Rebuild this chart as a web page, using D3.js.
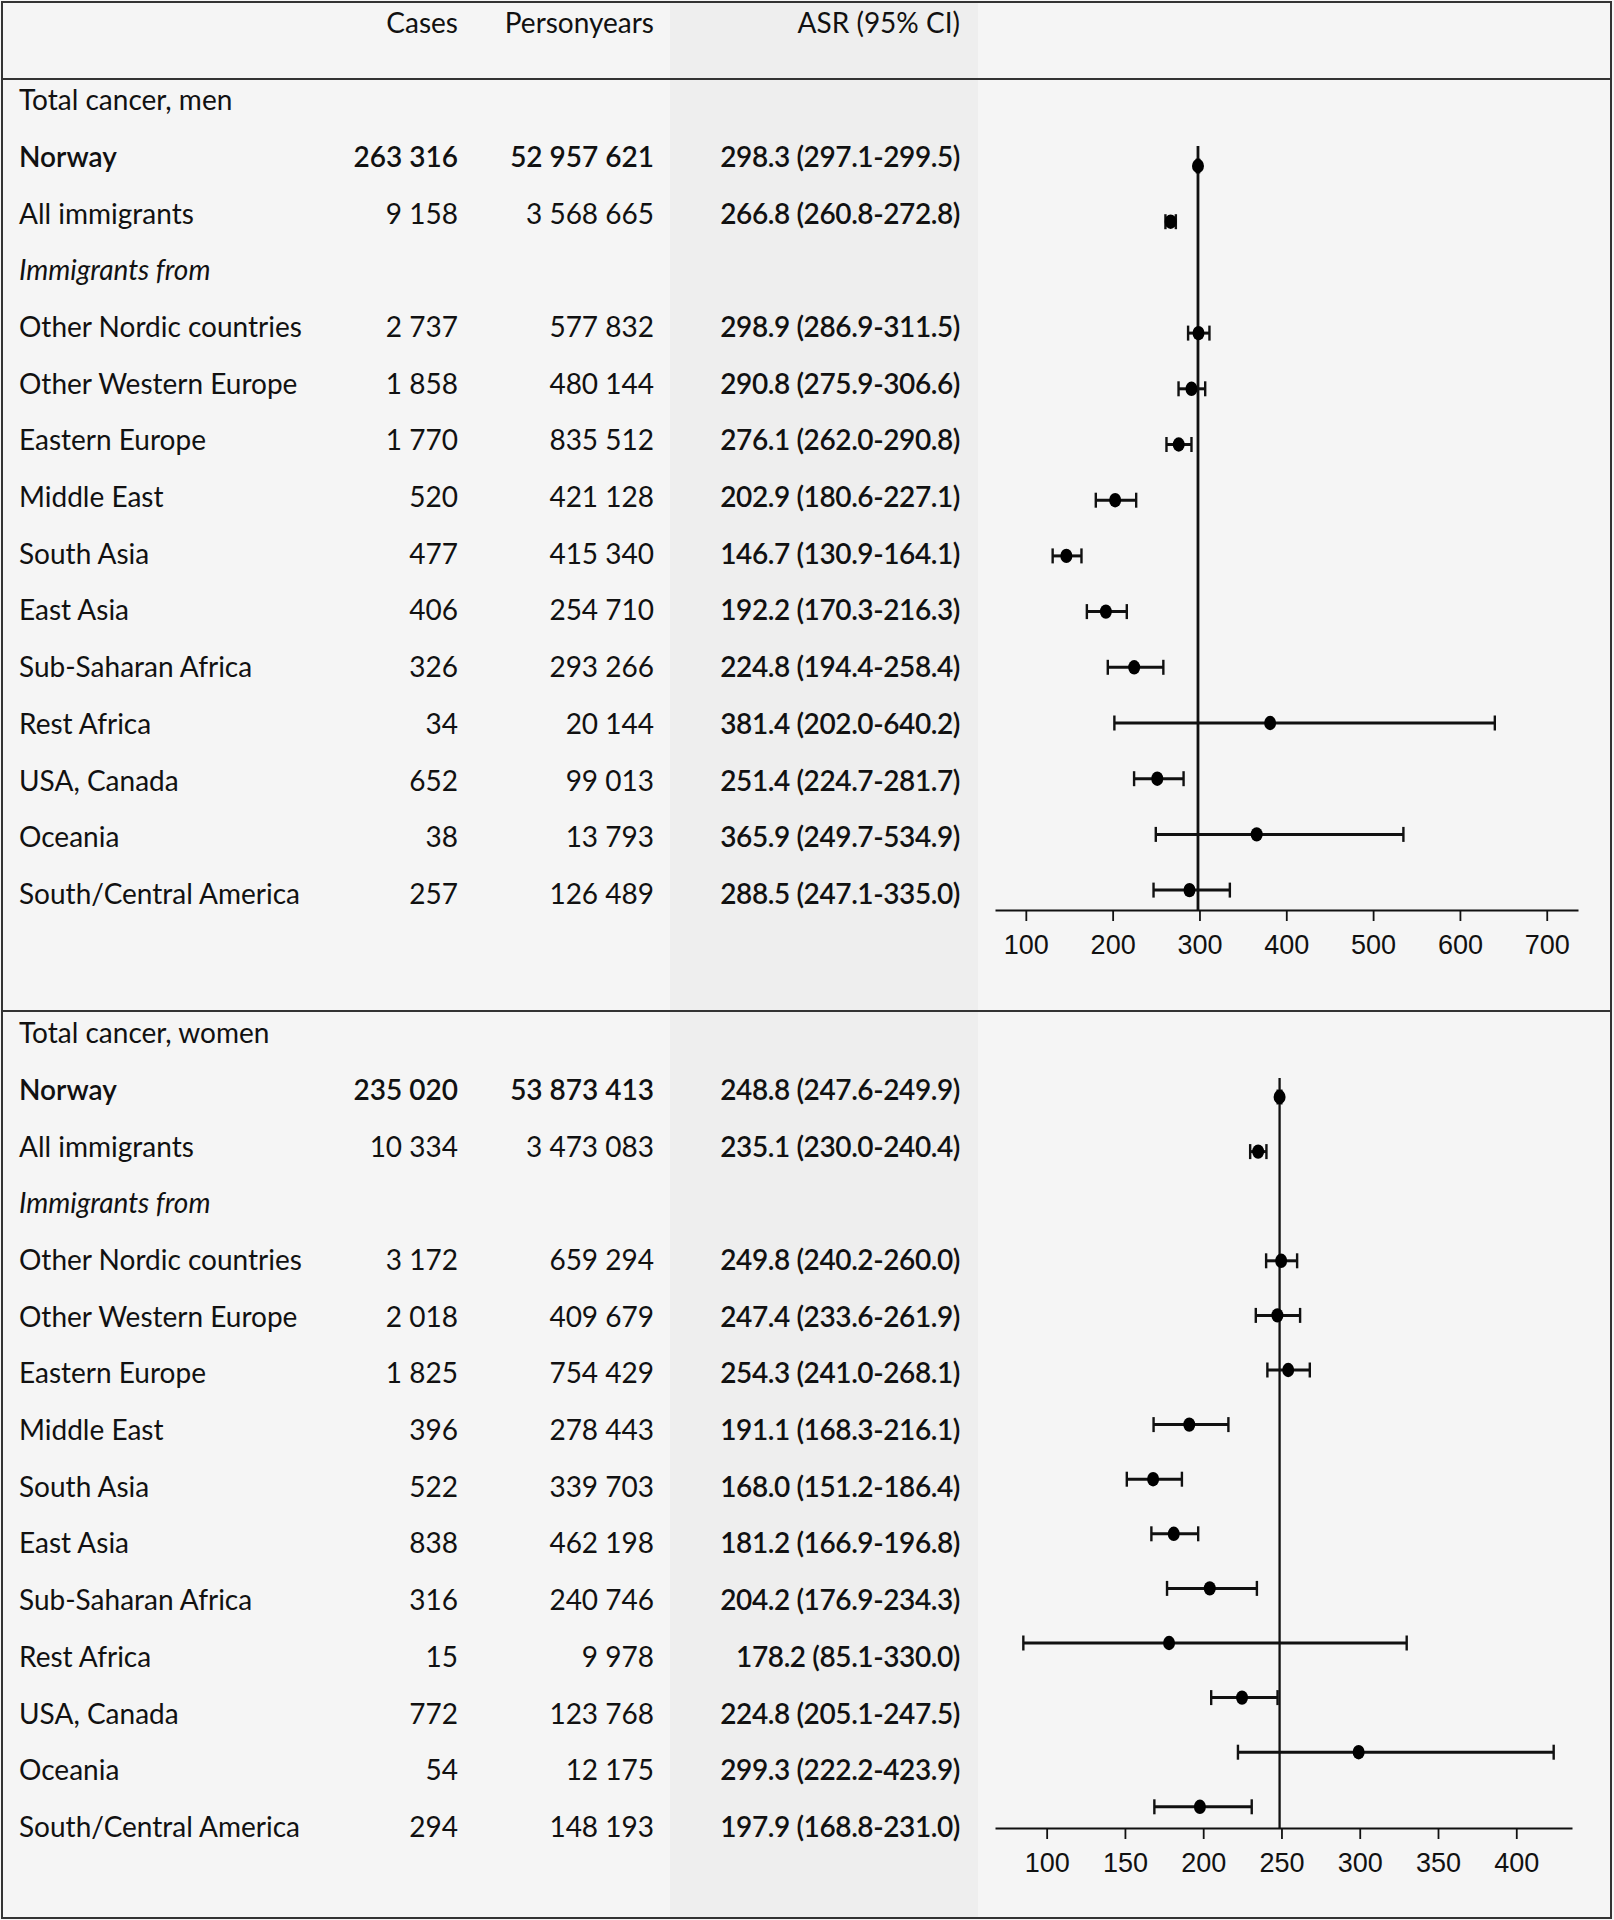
<!DOCTYPE html>
<html>
<head>
<meta charset="utf-8">
<script src="https://cdn.jsdelivr.net/npm/d3@7"></script>
<style>
  html, body { margin: 0; padding: 0; background: #f5f5f5; }
  svg { display: block; }
  .tbl { font-family: Lato, "Open Sans", sans-serif; font-size: 28px; fill: #111; }
  .tick text { font-family: "Liberation Sans", Arial, sans-serif; font-size: 27px; fill: #111; }
</style>
</head>
<body>
<svg id="chart" width="1614" height="1920"></svg>
<script>
// ---------- data ----------
const headers = ["Cases", "Personyears", "ASR (95% CI)"];
const sections = ["Total cancer, men", "Total cancer, women"];
const subHeading = "Immigrants from";
const regions = ["Norway", "All immigrants", "Other Nordic countries", "Other Western Europe",
  "Eastern Europe", "Middle East", "South Asia", "East Asia", "Sub-Saharan Africa",
  "Rest Africa", "USA, Canada", "Oceania", "South/Central America"];

const menCases = [263316, 9158, 2737, 1858, 1770, 520, 477, 406, 326, 34, 652, 38, 257];
const menPersonyears = [52957621, 3568665, 577832, 480144, 835512, 421128, 415340, 254710, 293266, 20144, 99013, 13793, 126489];
const menASR = [298.3, 266.8, 298.9, 290.8, 276.1, 202.9, 146.7, 192.2, 224.8, 381.4, 251.4, 365.9, 288.5];
const menLow = [297.1, 260.8, 286.9, 275.9, 262.0, 180.6, 130.9, 170.3, 194.4, 202.0, 224.7, 249.7, 247.1];
const menHigh = [299.5, 272.8, 311.5, 306.6, 290.8, 227.1, 164.1, 216.3, 258.4, 640.2, 281.7, 534.9, 335.0];

const womenCases = [235020, 10334, 3172, 2018, 1825, 396, 522, 838, 316, 15, 772, 54, 294];
const womenPersonyears = [53873413, 3473083, 659294, 409679, 754429, 278443, 339703, 462198, 240746, 9978, 123768, 12175, 148193];
const womenASR = [248.8, 235.1, 249.8, 247.4, 254.3, 191.1, 168.0, 181.2, 204.2, 178.2, 224.8, 299.3, 197.9];
const womenLow = [247.6, 230.0, 240.2, 233.6, 241.0, 168.3, 151.2, 166.9, 176.9, 85.1, 205.1, 222.2, 168.8];
const womenHigh = [249.9, 240.4, 260.0, 261.9, 268.1, 216.1, 186.4, 196.8, 234.3, 330.0, 247.5, 423.9, 231.0];

const menTicks = [100, 200, 300, 400, 500, 600, 700];
const womenTicks = [100, 150, 200, 250, 300, 350, 400];

// ---------- layout ----------
const svg = d3.select("#chart");
const W = 1614, H = 1920;
const fmtInt = n => d3.format(",")(n).replace(/,/g, " ");
const fmt1 = d3.format(".1f");

// background & shaded ASR column
svg.append("rect").attr("x", 0).attr("y", 0).attr("width", W).attr("height", H).attr("fill", "#f5f5f5");
svg.append("rect").attr("x", 670).attr("y", 2).attr("width", 308).attr("height", 1916).attr("fill", "#eeeeee");

// column anchors
const xLabel = 19, xCases = 458, xPY = 654, xASR = 960;

// header
const hdr = svg.append("g").attr("class", "tbl");
[[xCases, headers[0]], [xPY, headers[1]], [xASR, headers[2]]].forEach(([x, t]) => {
  hdr.append("text").attr("x", x).attr("y", 23).attr("dy", "0.35em").attr("text-anchor", "end").text(t);
});

function buildSection(cfg) {
  const rows = regions.map((r, i) => ({
    region: r, cases: cfg.cases[i], py: cfg.py[i], asr: cfg.asr[i], lo: cfg.lo[i], hi: cfg.hi[i],
    slot: i < 2 ? i : i + 1
  }));
  const yText = d3.scaleLinear().domain([0, 1]).range([cfg.textTop, cfg.textTop + cfg.textStep]);
  const g = svg.append("g").attr("class", "tbl");
  g.append("text").attr("x", xLabel).attr("y", yText(-1)).attr("dy", "0.35em").text(cfg.title);
  g.append("text").attr("x", xLabel).attr("y", yText(2)).attr("dy", "0.35em")
    .attr("font-style", "italic").text(subHeading);

  const rg = g.selectAll("g.row").data(rows).join("g").attr("class", "row")
    .attr("transform", d => `translate(0,${yText(d.slot)})`)
    .attr("font-weight", d => d.slot === 0 ? 600 : 400);
  rg.append("text").attr("x", xLabel).attr("dy", "0.35em").text(d => d.region);
  rg.append("text").attr("x", xCases).attr("dy", "0.35em").attr("text-anchor", "end").text(d => fmtInt(d.cases));
  rg.append("text").attr("x", xPY).attr("dy", "0.35em").attr("text-anchor", "end").text(d => fmtInt(d.py));
  rg.append("text").attr("x", xASR).attr("dy", "0.35em").attr("text-anchor", "end").attr("font-weight", 600)
    .attr("letter-spacing", "-0.4px")
    .text(d => `${fmt1(d.asr)} (${fmt1(d.lo)}-${fmt1(d.hi)})`);

  // forest plot
  const x = d3.scaleLinear().domain(cfg.domain).range([995, cfg.xEnd]);
  const yP = d3.scaleLinear().domain([0, 1]).range([cfg.plotTop, cfg.plotTop + cfg.plotStep]);
  const p = svg.append("g");
  const ax = p.append("g").attr("transform", `translate(0,${cfg.axisY})`)
    .call(d3.axisBottom(x).tickValues(cfg.ticks).tickSize(11).tickSizeOuter(0).tickPadding(14).tickFormat(d3.format("d")));
  ax.select(".domain").attr("stroke", "#111").attr("stroke-width", 2.2);
  ax.selectAll(".tick line").attr("stroke", "#111").attr("stroke-width", 1.8);
  ax.selectAll(".tick text").attr("fill", "#111");
  p.append("line").attr("x1", x(rows[0].asr)).attr("x2", x(rows[0].asr))
    .attr("y1", cfg.refTop).attr("y2", cfg.axisY).attr("stroke", "#111").attr("stroke-width", cfg.refW);

  const mk = p.selectAll("g.mk").data(rows).join("g").attr("class", "mk")
    .attr("transform", d => `translate(0,${yP(d.slot)})`);
  mk.append("line").attr("x1", d => x(d.lo)).attr("x2", d => x(d.hi)).attr("stroke", "#111").attr("stroke-width", 3);
  mk.append("line").attr("x1", d => x(d.lo)).attr("x2", d => x(d.lo)).attr("y1", -7.5).attr("y2", 7.5).attr("stroke", "#111").attr("stroke-width", 2.4);
  mk.append("line").attr("x1", d => x(d.hi)).attr("x2", d => x(d.hi)).attr("y1", -7.5).attr("y2", 7.5).attr("stroke", "#111").attr("stroke-width", 2.4);
  mk.append("ellipse").attr("cx", d => x(d.asr)).attr("rx", 6).attr("ry", 7.2).attr("fill", "#000");
}

buildSection({
  title: sections[0], cases: menCases, py: menPersonyears, asr: menASR, lo: menLow, hi: menHigh,
  textTop: 157, textStep: 56.7, plotTop: 166, plotStep: 55.7,
  domain: [64.5, 736], xEnd: 1578, ticks: menTicks, axisY: 910, refTop: 146, refW: 2.8
});
buildSection({
  title: sections[1], cases: womenCases, py: womenPersonyears, asr: womenASR, lo: womenLow, hi: womenHigh,
  textTop: 1090, textStep: 56.7, plotTop: 1097, plotStep: 54.6,
  domain: [67, 435.6], xEnd: 1572, ticks: womenTicks, axisY: 1828, refTop: 1078, refW: 2.3
});

// frame & dividers
const fr = svg.append("g").attr("stroke", "#333").attr("fill", "none").attr("stroke-width", 2);
fr.append("rect").attr("x", 2).attr("y", 2).attr("width", 1609).attr("height", 1916);
fr.append("line").attr("x1", 2).attr("x2", 1611).attr("y1", 79).attr("y2", 79);
fr.append("line").attr("x1", 2).attr("x2", 1611).attr("y1", 1011).attr("y2", 1011);
</script>
</body>
</html>
